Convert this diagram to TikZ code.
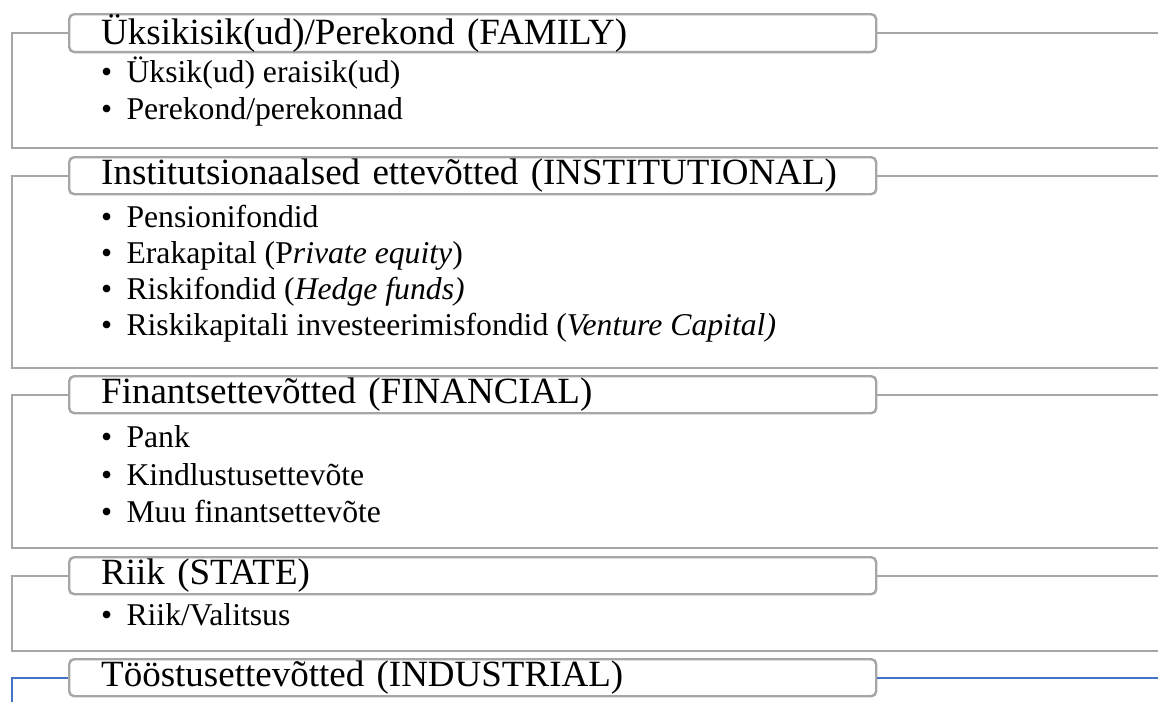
\documentclass[tikz,border=0pt]{standalone}
\usepackage{fontspec}
\setmainfont{Liberation Serif}
\usepackage{tikz}
\usetikzlibrary{positioning}

\definecolor{framegray}{HTML}{A6A6A6}
\definecolor{frameblue}{HTML}{4472C4}

\newcommand{\itm}{\textbullet\hspace{0.45em}}

\tikzset{
  owner/.style={draw=framegray, line width=2.4pt, rounded corners=5pt, fill=white,
    anchor=north west, minimum height=37pt, text width=743pt, inner xsep=32pt,
    inner ysep=0pt, align=left, font=\fontsize{37}{40}\selectfont},
  item/.style={anchor=base west, inner sep=0pt, font=\fontsize{31.7}{34}\selectfont},
  frame/.style={draw=framegray, line width=2.4pt},
  bluefr/.style={draw=frameblue, line width=2.4pt}
}

\begin{document}
\begin{tikzpicture}[x=1pt, y=-1pt]
  \useasboundingbox (0,0) rectangle (1158,702);

  % FAMILY
  \node[owner] (fam) at (68,13) {Üksikisik(ud)/Perekond (FAMILY)};
  \node[item] (fam1) at (101,82) {\itm Üksik(ud) eraisik(ud)};
  \node[item] (fam2) at (101,119) {\itm Perekond/perekonnad};
  \coordinate (famR) at (1158,0 |- fam.east);
  \coordinate (famB) at (1158,148);
  \draw[frame] (fam.west) -- (12,0 |- fam.west) |- (famB);
  \draw[frame] (fam.east) -- (famR);

  % INSTITUTIONAL
  \node[owner] (inst) at (68,156) {Institutsionaalsed ettevõtted (INSTITUTIONAL)};
  \node[item] (inst1) at (101,227) {\itm Pensionifondid};
  \node[item] (inst2) at (101,263) {\itm Erakapital (P\textit{rivate equity})};
  \node[item] (inst3) at (101,299) {\itm Riskifondid (\textit{Hedge funds)}};
  \node[item] (inst4) at (101,335) {\itm Riskikapitali investeerimisfondid (\textit{Venture Capital)}};
  \coordinate (instR) at (1158,0 |- inst.east);
  \coordinate (instB) at (1158,368);
  \draw[frame] (inst.west) -- (12,0 |- inst.west) |- (instB);
  \draw[frame] (inst.east) -- (instR);

  % FINANCIAL
  \node[owner] (fin) at (68,375) {Finantsettevõtted (FINANCIAL)};
  \node[item] (fin1) at (101,447) {\itm Pank};
  \node[item] (fin2) at (101,485) {\itm Kindlustusettevõte};
  \node[item] (fin3) at (101,522) {\itm Muu finantsettevõte};
  \coordinate (finR) at (1158,0 |- fin.east);
  \coordinate (finB) at (1158,548);
  \draw[frame] (fin.west) -- (12,0 |- fin.west) |- (finB);
  \draw[frame] (fin.east) -- (finR);

  % STATE
  \node[owner] (state) at (68,556) {Riik (STATE)};
  \node[item] (state1) at (101,625) {\itm Riik/Valitsus};
  \coordinate (stateR) at (1158,0 |- state.east);
  \coordinate (stateB) at (1158,651);
  \draw[frame] (state.west) -- (12,0 |- state.west) |- (stateB);
  \draw[frame] (state.east) -- (stateR);

  % INDUSTRIAL
  \node[owner] (ind) at (68,658) {Tööstusettevõtted (INDUSTRIAL)};
  \coordinate (indR) at (1158,0 |- ind.east);
  \coordinate (indB) at (12,702);
  \draw[bluefr] (ind.west) -- (12,0 |- ind.west) -- (indB);
  \draw[bluefr] (ind.east) -- (indR);
\end{tikzpicture}
\end{document}
